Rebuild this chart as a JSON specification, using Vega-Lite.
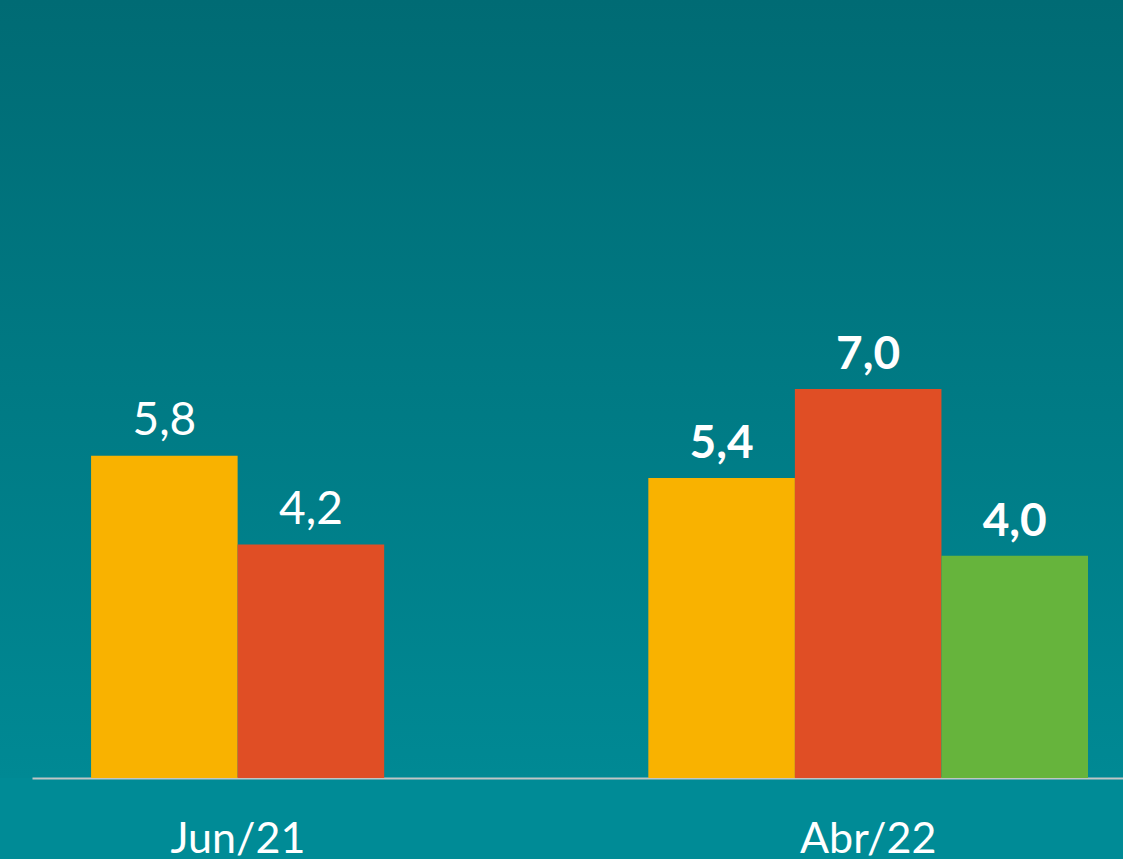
{
  "$schema": "https://vega.github.io/schema/vega-lite/v6.json",
  "width": 1123,
  "height": 778,
  "autosize": {"type": "none"},
  "padding": {"left": 0, "top": 0, "right": 0, "bottom": 81},
  "background": "#008B96",
  "config": {
    "view": {
      "stroke": null,
      "fill": {"gradient": "linear", "x1": 0, "y1": 0, "x2": 0, "y2": 1, "stops": [{"offset": 0, "color": "#006B74"}, {"offset": 1, "color": "#008994"}]}
    },
    "locale": {"number": {"decimal": ",", "thousands": ".", "grouping": [3], "currency": ["R$", ""]}}
  },
  "data": {
    "values": [
      {"group": "Jun/21", "series": "A", "value": 5.8},
      {"group": "Jun/21", "series": "B", "value": 4.2},
      {"group": "Abr/22", "series": "A", "value": 5.4},
      {"group": "Abr/22", "series": "B", "value": 7.0},
      {"group": "Abr/22", "series": "C", "value": 4.0}
    ]
  },
  "encoding": {
    "x": {
      "field": "group",
      "type": "nominal",
      "sort": ["Jun/21", "Abr/22"],
      "scale": {"range": [32, 1123], "paddingInner": 0.211, "paddingOuter": 0.0844, "align": 0.628},
      "axis": {
        "title": null,
        "ticks": false,
        "domainColor": "#BFC6C6",
        "domainWidth": 2,
        "labelAngle": 0,
        "labelFont": "Lato",
        "labelFontSize": 43,
        "labelColor": "#FFFFFF",
        "labelBaseline": "alphabetic",
        "labelPadding": 74,
        "labelOffset": {"condition": {"test": "datum.value === 'Jun/21'", "value": -73}, "value": 0}
      }
    },
    "xOffset": {
      "field": "series",
      "type": "nominal",
      "scale": {"domain": ["A", "B", "C"], "paddingInner": 0, "paddingOuter": 0}
    },
    "y": {
      "field": "value",
      "type": "quantitative",
      "scale": {"domain": [0, 14], "nice": false, "zero": true},
      "axis": null
    }
  },
  "layer": [
    {
      "mark": {"type": "bar"},
      "encoding": {
        "color": {
          "field": "series",
          "type": "nominal",
          "scale": {"domain": ["A", "B", "C"], "range": ["#F9B200", "#E04E25", "#66B43C"]},
          "legend": null
        }
      }
    },
    {
      "transform": [{"filter": "datum.group === 'Jun/21'"}],
      "mark": {"type": "text", "font": "Lato", "fontSize": 46, "color": "#FFFFFF", "baseline": "alphabetic", "dy": -21},
      "encoding": {"text": {"field": "value", "type": "quantitative", "format": ".1f"}}
    },
    {
      "transform": [{"filter": "datum.group === 'Abr/22'"}],
      "mark": {"type": "text", "font": "Lato", "fontWeight": "bold", "fontSize": 46, "color": "#FFFFFF", "baseline": "alphabetic", "dy": -20},
      "encoding": {"text": {"field": "value", "type": "quantitative", "format": ".1f"}}
    }
  ]
}
